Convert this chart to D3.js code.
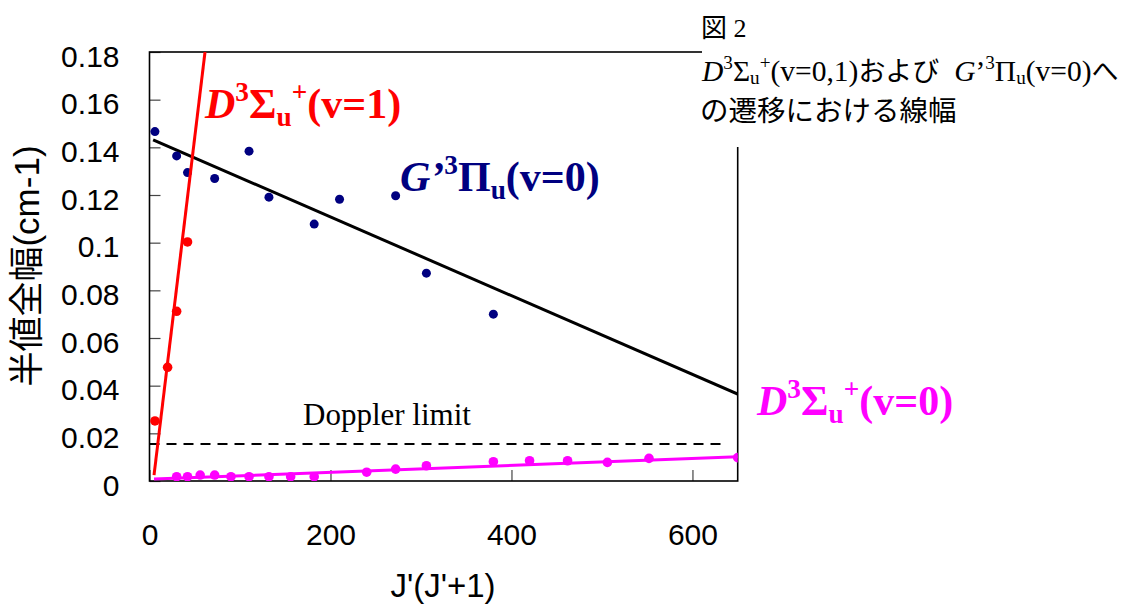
<!DOCTYPE html>
<html>
<head>
<meta charset="utf-8">
<script src="https://cdn.jsdelivr.net/npm/d3@7"></script>
<style>
  body { margin: 0; background: #fff; }
  .axis path { display: none; }
  .axis line { stroke: #444; stroke-width: 1.2; }
  .axis text { font-family: "Liberation Sans", Arial, sans-serif; font-size: 30px; fill: #000; }
</style>
</head>
<body>
<script>
// tick values
var xTicks = [0, 200, 400, 600];
var yTicks = [0, 0.02, 0.04, 0.06, 0.08, 0.1, 0.12, 0.14, 0.16, 0.18];

// G'3Pi_u (v=0)
var gX = [6, 30, 42, 72, 110, 132, 182, 210, 272, 306, 380];
var gY = [0.1466, 0.1364, 0.1294, 0.1269, 0.1384, 0.1191, 0.1078, 0.1182, 0.1197, 0.0872, 0.0700];

// D3Sigma_u+ (v=1)
var d1X = [6, 20, 30, 42];
var d1Y = [0.0252, 0.0477, 0.0712, 0.1003];

// D3Sigma_u+ (v=0)
var d0X = [30, 42, 56, 72, 90, 110, 132, 156, 182, 240, 272, 306, 380, 420, 462, 506, 552, 650];
var d0Y = [0.0018, 0.0018, 0.0025, 0.0025, 0.0018, 0.0018, 0.0018, 0.0018, 0.0018,
           0.0037, 0.0050, 0.0064, 0.0081, 0.0085, 0.0085, 0.0078, 0.0095, 0.0098];

// linear fits: [intercept, slope], x range
var gFit = [0.1438, -0.0001651], gFitX = [4, 650];
var d1Fit = [-0.0133, 0.003151], d1FitX = [5, 62];
var d0Fit = [0.00073, 0.0000146], d0FitX = [5, 650];

// doppler limit
var dopplerY = 0.0155, dopplerX = [0, 632];

var W = 1131, H = 605;
var pLeft = 149.5, pRight = 737.7, pTop = 52, pBottom = 481;

var svg = d3.select("body")
  .append("svg")
    .attr("width", W)
    .attr("height", H);

var x = d3.scaleLinear().domain([0, 650]).range([pLeft, pRight]);
var y = d3.scaleLinear().domain([0, 0.18]).range([pBottom, pTop]);

svg.append("clipPath").attr("id", "plot")
  .append("rect")
    .attr("x", pLeft).attr("y", pTop)
    .attr("width", pRight - pLeft).attr("height", pBottom - pTop);

// axes (ticks point inward)
var yAxisCall = d3.axisLeft(y)
  .tickValues(yTicks)
  .tickSize(-11)
  .tickPadding(30)
  .tickFormat(function(d) { return String(+d.toFixed(2)); });

svg.append("g")
  .attr("class", "y axis")
  .attr("transform", "translate(" + pLeft + ",0)")
  .call(yAxisCall)
  .selectAll("text").attr("dy", "0.47em");

var xAxisCall = d3.axisBottom(x)
  .tickValues(xTicks)
  .tickSize(-11)
  .tickPadding(43)
  .tickFormat(d3.format("d"));

svg.append("g")
  .attr("class", "x axis")
  .attr("transform", "translate(0," + pBottom + ")")
  .call(xAxisCall);

// frame
svg.append("rect")
  .attr("x", pLeft).attr("y", pTop)
  .attr("width", pRight - pLeft).attr("height", pBottom - pTop)
  .attr("fill", "none")
  .attr("stroke", "#000")
  .attr("stroke-width", 1.6);

var plot = svg.append("g").attr("clip-path", "url(#plot)");

// doppler limit
plot.append("line")
  .attr("x1", x(dopplerX[0])).attr("x2", x(dopplerX[1]))
  .attr("y1", y(dopplerY)).attr("y2", y(dopplerY))
  .attr("stroke", "#000")
  .attr("stroke-width", 2)
  .attr("stroke-dasharray", "10,7");

svg.append("text")
  .attr("x", 303).attr("y", 425)
  .attr("font-family", "'Liberation Serif', 'Times New Roman', serif")
  .attr("font-size", "31px")
  .text("Doppler limit");

function fitLine(coef, xr, color) {
  plot.append("line")
    .attr("x1", x(xr[0])).attr("y1", y(coef[0] + coef[1] * xr[0]))
    .attr("x2", x(xr[1])).attr("y2", y(coef[0] + coef[1] * xr[1]))
    .attr("stroke", color)
    .attr("stroke-width", 3);
}

function dots(xs, ys, color, r) {
  plot.selectAll(null)
    .data(xs.map(function(d, i) { return [d, ys[i]]; }))
    .enter()
    .append("circle")
      .attr("cx", function(d) { return x(d[0]); })
      .attr("cy", function(d) { return y(d[1]); })
      .attr("r", r)
      .attr("fill", color);
}

fitLine(gFit, gFitX, "#000");
dots(gX, gY, "#000080", 4.5);

fitLine(d0Fit, d0FitX, "#FF00FF");
dots(d0X, d0Y, "#FF00FF", 4.8);

fitLine(d1Fit, d1FitX, "#FF0000");
dots(d1X, d1Y, "#FF0000", 4.8);

// rich text: parts [text, style, position, size]
function rich(px, py, size, color, bold, parts, subShift) {
  var sub = subShift === undefined ? 0.18 : subShift;
  var t = svg.append("text")
    .attr("x", px).attr("y", py)
    .attr("fill", color)
    .attr("font-family", "'Liberation Serif', 'Times New Roman', serif")
    .attr("font-size", size + "px")
    .attr("font-weight", bold ? "bold" : "normal");
  parts.forEach(function(p) {
    var s = t.append("tspan").text(p[0]);
    if (p[1] === "i") s.attr("font-style", "italic");
    if (p[1] === "j") s.attr("font-family", "'Noto Sans CJK JP', sans-serif").attr("font-weight", "normal");
    if (p[2] === "sup") s.attr("font-size", (size * 0.65) + "px").attr("y", py - size * 0.4);
    else if (p[2] === "sub") s.attr("font-size", (size * 0.65) + "px").attr("y", py + size * sub);
    else s.attr("y", py);
    if (p[3]) s.attr("font-size", p[3] + "px");
  });
  return t;
}

rich(205, 118, 42, "#FF0000", true,
  [["D", "i"], ["3", "", "sup"], ["\u03A3"], ["u", "", "sub"], ["+", "", "sup"], ["(v=1)"]]);

rich(400, 191, 42, "#000080", true,
  [["G\u2019", "i"], ["3", "", "sup"], ["\u03A0"], ["u", "", "sub"], ["(v=0)"]]);

rich(757, 415, 42, "#FF00FF", true,
  [["D", "i"], ["3", "", "sup"], ["\u03A3"], ["u", "", "sub"], ["+", "", "sup"], ["(v=0)"]]);

// caption box covering the top right of the frame
svg.append("rect")
  .attr("x", 702).attr("y", 0)
  .attr("width", W - 702).attr("height", 147)
  .attr("fill", "#fff");

rich(701, 37, 26, "#000", false, [["\u56F3", "j", "", 26], [" 2"]]);

rich(702, 81, 29.5, "#000", false,
  [["D", "i"], ["3", "", "sup"], ["\u03A3"], ["u", "", "sub"], ["+", "", "sup"], ["(v=0,1)"],
   ["\u304A\u3088\u3073", "j", "", 27], ["\u2002"], ["G", "i"], ["\u2019"], ["3", "", "sup"], ["\u03A0"], ["u", "", "sub"], ["(v=0)"],
   ["\u3078", "j", "", 27]], 0.1);

rich(700, 121, 28.5, "#000", false,
  [["\u306E\u9077\u79FB\u306B\u304A\u3051\u308B\u7DDA\u5E45", "j"]]);

// axis titles
svg.append("text")
  .attr("x", 443).attr("y", 597)
  .attr("text-anchor", "middle")
  .attr("font-family", "'Liberation Sans', Arial, sans-serif")
  .attr("font-size", "33px")
  .text("J'(J'+1)");

svg.append("text")
  .attr("transform", "translate(39,266) rotate(-90)")
  .attr("text-anchor", "middle")
  .attr("font-family", "'Liberation Sans', 'Noto Sans CJK JP', sans-serif")
  .attr("font-size", "35px")
  .text("\u534A\u5024\u5168\u5E45(cm-1)");
</script>
</body>
</html>
